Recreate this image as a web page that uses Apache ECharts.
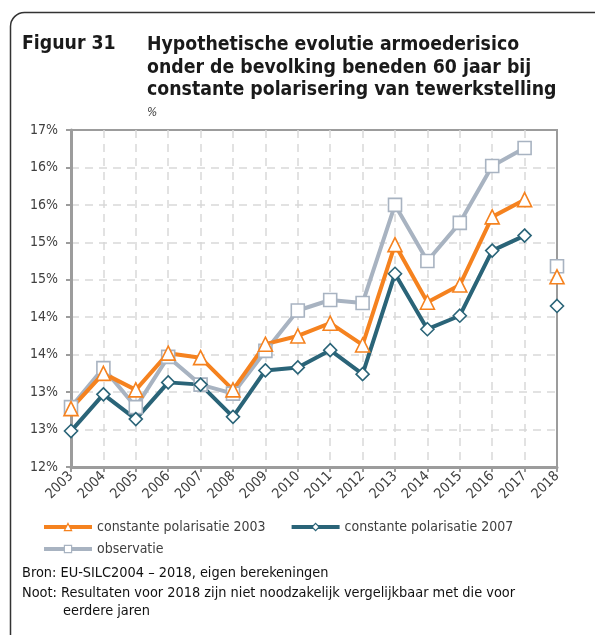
<!DOCTYPE html>
<html>
<head>
<meta charset="utf-8">
<script src="https://cdn.jsdelivr.net/npm/echarts@6/dist/echarts.min.js"></script>
<style>
  html, body { margin: 0; padding: 0; background: #fff; }
  #chart { width: 595px; height: 635px; }
</style>
</head>
<body>
<div id="chart"></div>
<script>
const years = ["2003", "2004", "2005", "2006", "2007", "2008", "2009", "2010",
  "2011", "2012", "2013", "2014", "2015", "2016", "2017", "2018"];

// 2003-2017 connected, 2018 drawn as a loose point
const pol2003 = [12.78, 13.25, 13.03, 13.52, 13.46, 13.03, 13.64, 13.75,
  13.92, 13.63, 14.97, 14.2, 14.43, 15.34, 15.57, 14.54];
const pol2007 = [12.48, 12.97, 12.64, 13.13, 13.1, 12.67, 13.29, 13.33,
  13.56, 13.24, 14.58, 13.84, 14.02, 14.89, 15.09, 14.15];
const observatie = [12.8, 13.32, 12.8, 13.47, 13.1, 12.98, 13.55, 14.09,
  14.23, 14.19, 15.5, 14.75, 15.26, 16.02, 16.26, 14.68];

const chart = echarts.init(document.getElementById("chart"));

const labelFont = "DejaVu Sans Condensed";
const txt = "#404040";

function mainPart(arr) {
  return arr.map((v, i) => (i < arr.length - 1 ? v : "-"));
}
function lastPart(arr) {
  return arr.map((v, i) => (i === arr.length - 1 ? v : "-"));
}

const styles = [
  { name: "constante polarisatie 2003", data: pol2003, color: "#F5821F", symbol: "triangle", size: 14 },
  { name: "constante polarisatie 2007", data: pol2007, color: "#2A6478", symbol: "diamond", size: 13 },
  { name: "observatie", data: observatie, color: "#A8B3C1", symbol: "rect", size: 13 },
];

const series = [];
// observatie first so the coloured lines sit on top like the original
[styles[2], styles[0], styles[1]].forEach((s) => {
  const common = {
    name: s.name,
    type: "line",
    symbol: s.symbol,
    symbolSize: s.size,
    showAllSymbol: true,
    itemStyle: { color: "#fff", borderColor: s.color, borderWidth: 1.6 },
    lineStyle: { color: s.color, width: 4 },
    color: s.color,
    animation: false,
  };
  series.push(Object.assign({}, common, { data: mainPart(s.data) }));
  series.push(Object.assign({}, common, { data: lastPart(s.data), lineStyle: { width: 0 } }));
});

const legendBase = {
  itemWidth: 48, itemHeight: 9, itemGap: 24,
  textStyle: { fontFamily: labelFont, fontSize: 14, color: txt },
  lineStyle: { width: 4 },
  itemStyle: { borderWidth: 1.2 },
};

const splitStyle = { color: "#d9d9d9", type: [8, 6], width: 1.5 };

const options = {
  animation: false,
  grid: {
    left: 71, right: 38, top: 130, bottom: 168,
    show: true, borderColor: "#9c9c9c", borderWidth: 2,
  },
  legend: [
    Object.assign({}, legendBase, { data: [styles[0].name, styles[1].name], left: 37, top: 515 }),
    Object.assign({}, legendBase, { data: [styles[2].name], left: 37, top: 537 }),
  ],
  xAxis: {
    type: "category",
    data: years,
    boundaryGap: false,
    axisLine: { lineStyle: { color: "#9c9c9c", width: 3 } },
    axisTick: { show: true, length: 5, lineStyle: { color: "#9c9c9c", width: 2 } },
    axisLabel: {
      rotate: 45, fontFamily: labelFont, fontSize: 14, color: txt, margin: 7,
    },
    splitLine: { show: true, showMinLine: false, showMaxLine: false, lineStyle: splitStyle },
  },
  yAxis: {
    type: "value",
    min: 12, max: 16.5, interval: 0.5,
    axisLine: { show: true, lineStyle: { color: "#9c9c9c", width: 3 } },
    axisTick: { show: true, length: 5, lineStyle: { color: "#9c9c9c", width: 2 } },
    axisLabel: {
      fontFamily: labelFont, fontSize: 14, color: txt, margin: 13,
      formatter: (v) => Math.round(v) + "%",
    },
    splitLine: { show: true, showMinLine: false, showMaxLine: false, lineStyle: splitStyle },
  },
  graphic: [
    {
      type: "rect", silent: true,
      shape: { x: 10.5, y: 12.5, width: 700, height: 640, r: [14, 0, 0, 0] },
      style: { fill: "none", stroke: "#333", lineWidth: 1.5 },
    },
    {
      type: "text", left: 22, top: 34,
      style: { text: "Figuur 31", font: "bold 19.3px 'DejaVu Sans Condensed'", fill: "#1a1a1a" },
    },
    {
      type: "text", left: 147, top: 34,
      style: {
        text: "Hypothetische evolutie armoederisico\nonder de bevolking beneden 60 jaar bij\nconstante polarisering van tewerkstelling",
        font: "bold 19.3px 'DejaVu Sans Condensed'", lineHeight: 22.5, fill: "#1a1a1a",
      },
    },
    {
      type: "text", left: 147, top: 107,
      style: { text: "%", font: "italic 12px 'DejaVu Sans Condensed'", fill: txt },
    },
    {
      type: "text", left: 22, top: 563,
      style: {
        text: "Bron: EU-SILC2004 \u2013 2018, eigen berekeningen\nNoot: Resultaten voor 2018 zijn niet noodzakelijk vergelijkbaar met die voor",
        font: "14.4px 'DejaVu Sans Condensed'", lineHeight: 20.5, fill: "#111",
      },
    },
    {
      type: "text", left: 63, top: 604,
      style: { text: "eerdere jaren", font: "14.4px 'DejaVu Sans Condensed'", fill: "#111" },
    },
  ],
  series: series,
};

chart.setOption(options);
</script>
</body>
</html>
